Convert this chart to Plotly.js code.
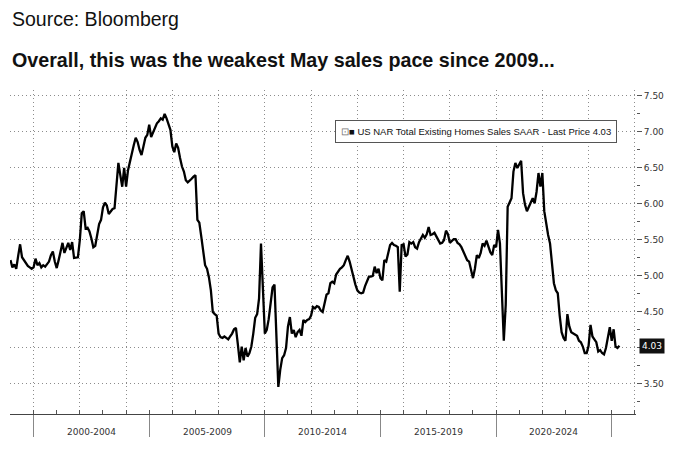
<!DOCTYPE html>
<html><head><meta charset="utf-8">
<script src="https://cdn.plot.ly/plotly-3.0.1.min.js"></script>
<style>html,body{margin:0;padding:0;background:#fff}#chart{width:680px;height:451px}</style>
</head><body><div id="chart"></div>
<script>
const seriesName = "US NAR Total Existing Homes Sales SAAR";
const sourceText = "Source: Bloomberg";
const titleText = "Overall, this was the weakest May sales pace since 2009...";
const firstYear = 1999; // monthly series, first value = Jan 1999

// Monthly SAAR, millions
const sales1999 = [5.22, 5.12, 5.16, 5.10, 5.28, 5.44, 5.26, 5.22, 5.18, 5.14, 5.12, 5.10];
const sales2000_2004 = [
  5.12, 5.24, 5.15, 5.18, 5.12, 5.15, 5.13, 5.17, 5.20, 5.29, 5.34, 5.20,
  5.11, 5.22, 5.36, 5.46, 5.32, 5.40, 5.46, 5.36, 5.47, 5.25, 5.25, 5.26,
  5.50, 5.87, 5.90, 5.66, 5.67, 5.62, 5.52, 5.40, 5.42, 5.58, 5.72, 5.78,
  5.95, 6.02, 5.98, 5.86, 5.90, 5.93, 5.94, 6.25, 6.57, 6.40, 6.24, 6.50,
  6.24, 6.47, 6.60, 6.70, 6.82, 6.92, 6.86, 6.75, 6.68, 6.80, 6.92, 6.96
];
const sales2005_2009 = [
  7.10, 6.93, 6.99, 7.05, 7.12, 7.15, 7.19, 7.17, 7.25, 7.19, 7.10, 7.03,
  6.80, 6.72, 6.84, 6.78, 6.64, 6.52, 6.45, 6.33, 6.30, 6.32, 6.35, 6.38,
  6.40, 5.78, 5.74, 5.55, 5.32, 5.15, 5.10, 4.98, 4.80, 4.50, 4.47, 4.45,
  4.20, 4.15, 4.14, 4.16, 4.14, 4.12, 4.16, 4.20, 4.26, 4.28, 4.05, 3.80,
  4.02, 3.83, 4.00, 3.88, 3.93, 4.02, 4.20, 4.42, 4.47, 4.69, 5.45, 4.90
];
const sales2010_2014 = [
  4.20, 4.25, 4.40, 4.62, 4.84, 4.88, 4.10, 3.46, 3.70, 3.86, 3.90, 4.00,
  4.30, 4.43, 4.20, 4.25, 4.15, 4.22, 4.25, 4.17, 4.39, 4.36, 4.39, 4.40,
  4.45, 4.57, 4.55, 4.58, 4.57, 4.52, 4.50, 4.62, 4.74, 4.76, 4.90, 4.92,
  4.90, 5.02, 5.07, 5.10, 5.12, 5.15, 5.22, 5.28, 5.20, 5.08, 5.00, 4.88,
  4.80, 4.77, 4.76, 4.77, 4.86, 4.93, 4.99, 4.99, 5.00, 5.13, 5.04, 5.10
];
const sales2015_2019 = [
  4.97, 4.94, 5.22, 5.20, 5.33, 5.43, 5.46, 5.43, 5.42, 5.40, 4.78, 5.43,
  5.44, 5.27, 5.30, 5.47, 5.45, 5.47, 5.40, 5.38, 5.47, 5.52, 5.57, 5.53,
  5.58, 5.68, 5.57, 5.58, 5.60, 5.55, 5.50, 5.45, 5.46, 5.50, 5.63, 5.58,
  5.46, 5.48, 5.51, 5.51, 5.46, 5.44, 5.40, 5.34, 5.27, 5.22, 5.20, 5.06,
  4.97, 5.10, 5.29, 5.25, 5.32, 5.45, 5.42, 5.49, 5.40, 5.33, 5.29, 5.43
];
const sales2020_2025 = [
  5.40, 5.64, 5.45, 4.75, 4.10, 4.60, 5.96, 6.02, 6.08, 6.45, 6.57, 6.50,
  6.55, 6.60, 6.15, 5.99, 5.90, 5.95, 6.02, 6.08, 6.01, 6.17, 6.43, 6.24,
  6.43, 5.90, 5.70, 5.57, 5.45, 5.15, 4.90, 4.80, 4.76, 4.45, 4.22, 4.14,
  4.10, 4.47, 4.30, 4.22, 4.20, 4.19, 4.17, 4.10, 4.08, 4.02, 3.93, 3.93,
  4.03, 4.32, 4.16, 4.12, 4.08, 3.95, 3.97, 3.93, 3.91, 4.00, 4.15, 4.29,
  4.10, 4.26, 4.02, 4.00, 4.03
];

const periodStarts = [2000, 2005, 2010, 2015, 2020, 2025];
const periodLabels = ["2000-2004", "2005-2009", "2010-2014", "2015-2019", "2020-2024"];
const yTicks = [3.5, 4.0, 4.5, 5.0, 5.5, 6.0, 6.5, 7.0, 7.5];

const sales = [].concat(sales1999, sales2000_2004, sales2005_2009, sales2010_2014, sales2015_2019, sales2020_2025);
const months = sales.map((_, i) => firstYear + i / 12);
const last = sales[sales.length - 1];
// the tick label hidden behind the last-price tag
const yTickText = yTicks.map(v => Math.abs(v - last) < 0.15 ? "" : v.toFixed(2));

const xRange = [1998.98, 2026.05];
const yRange = [3.083, 7.583];
const gridColor = "#8c8c8c";
const gridDash = "1px,3px";
const axisFont = {family: "DejaVu Sans, Verdana, sans-serif", size: 9, color: "#333"};
const legendFont = {family: "Liberation Sans, Arial, sans-serif", size: 9.5, color: "#111"};

const traces = [
  {x: months, y: sales, type: "scatter", mode: "lines", line: {color: "#000", width: 2.3}, hoverinfo: "skip"},
  {x: periodStarts, y: periodStarts.map(() => null), xaxis: "x2", yaxis: "y", type: "scatter", mode: "lines", hoverinfo: "skip"}
];

const annotations = [
  {xref: "paper", yref: "paper", x: 0, y: 1.219, xanchor: "left", yanchor: "middle", showarrow: false,
   text: sourceText, font: {family: "Liberation Sans, Arial, sans-serif", size: 19.5, color: "#111"}},
  {xref: "paper", yref: "paper", x: 0, y: 1.0926, xanchor: "left", yanchor: "middle", showarrow: false,
   text: "<b>" + titleText + "</b>", font: {family: "Liberation Sans, Arial, sans-serif", size: 19.7, color: "#111"}},
  {xref: "paper", yref: "paper", x: 0.745, y: 0.872, xanchor: "center", yanchor: "middle", showarrow: false,
   text: '<span style="color:#777">⊡</span>■ ' + seriesName + " - Last Price " + last.toFixed(2),
   font: legendFont, bgcolor: "#fff", bordercolor: "#555", borderwidth: 1, borderpad: 5},
  {xref: "paper", yref: "y", x: 1, y: last, xanchor: "left", yanchor: "middle", xshift: 3, showarrow: false,
   text: last.toFixed(2), font: {family: "DejaVu Sans, Verdana, sans-serif", size: 9, color: "#fff"},
   bgcolor: "#111", borderpad: 2}
];
periodLabels.forEach((lab, i) => {
  annotations.push({xref: "x", yref: "paper", x: (periodStarts[i] + periodStarts[i + 1]) / 2, y: 0, yshift: -18,
    xanchor: "center", yanchor: "middle", showarrow: false, text: lab, font: axisFont});
});

const layout = {
  width: 680, height: 451,
  margin: {l: 10, r: 44, t: 90, b: 37},
  paper_bgcolor: "#fff", plot_bgcolor: "#fff",
  showlegend: false,
  xaxis: {range: xRange, tickmode: "linear", tick0: 2000, dtick: 2, showgrid: true, griddash: gridDash,
    gridcolor: gridColor, gridwidth: 1, ticks: "inside", ticklen: 4, tickcolor: "#555", showticklabels: false,
    showline: true, linecolor: "#444", linewidth: 1, zeroline: false,
    minor: {tickmode: "linear", tick0: 1999, dtick: 1, ticks: "inside", ticklen: 4, tickcolor: "#555", showgrid: false}},
  xaxis2: {overlaying: "x", anchor: "y", side: "bottom", range: xRange, tickmode: "array", tickvals: periodStarts,
    ticks: "outside", ticklen: 22, tickcolor: "#888", showticklabels: false, showgrid: false, zeroline: false, showline: false},
  yaxis: {side: "right", range: yRange, tickmode: "array", tickvals: yTicks, ticktext: yTickText,
    showgrid: true, griddash: gridDash, gridcolor: gridColor, gridwidth: 1,
    ticks: "outside", ticklen: 5, tickcolor: "#555", tickfont: axisFont, zeroline: false, showline: false,
    minor: {tickmode: "linear", tick0: 3.25, dtick: 0.5, ticks: "outside", ticklen: 3, tickcolor: "#555", showgrid: false}},
  annotations: annotations
};

Plotly.newPlot("chart", traces, layout, {staticPlot: true, displayModeBar: false});
</script>
</body></html>
